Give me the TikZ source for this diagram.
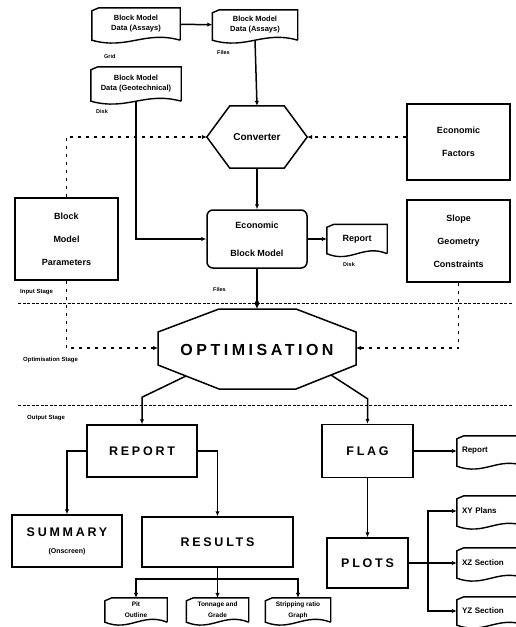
\documentclass[tikz,border=0pt]{standalone}
\usepackage{fontspec}
\setmainfont{Liberation Sans}
\newfontfamily\spacedcaps[LetterSpace=22]{Liberation Sans}
\usetikzlibrary{calc,arrows.meta}

% outline of a document symbol round a named node
\newcommand{\docframe}[1]{%
  \draw[line width=1.4pt]
    (#1.south east) -- (#1.north east) -- ([xshift=7pt]#1.north west)
    -- ([yshift=-3pt]#1.north west) -- (#1.south west)
    .. controls ($(#1.south west)!0.4!(#1.south east)+(0,10)$)
    and ($(#1.south west)!0.6!(#1.south east)+(0,-10)$) .. (#1.south east);}

\begin{document}
\begin{tikzpicture}[x=1pt,y=-1pt,>={Latex[length=5pt,width=4.5pt]},
  doc/.style={inner sep=0pt,align=center,font=\bfseries\fontsize{7.5}{10}\selectfont},
  box/.style={draw,line width=1.5pt,inner sep=0pt,align=center,font=\bfseries\fontsize{9}{23}\selectfont},
  caps/.style={box,font=\spacedcaps\bfseries\fontsize{12.5}{15}\selectfont},
  tag/.style={anchor=west,inner sep=0pt,font=\bfseries\fontsize{5.5}{6}\selectfont},
  arr/.style={->,line width=1.5pt},
  dots/.style={->,line width=1.2pt,dash pattern=on 3pt off 5pt},
  stage/.style={line width=1pt,dash pattern=on 3pt off 1.5pt}]
  \useasboundingbox (0,0) rectangle (516,627);

  % input stage
  \node[doc,minimum width=88pt,minimum height=32pt] (blkA) at (136,24) {Block Model\\Data (Assays)};
  \node[doc,minimum width=85pt,minimum height=30pt] (blkB) at (255,25) {Block Model\\Data (Assays)};
  \node[doc,minimum width=90pt,minimum height=34pt] (blkC) at (136,84) {Block Model\\Data (Geotechnical)};
  \docframe{blkA}
  \docframe{blkB}
  \docframe{blkC}
  \node[tag] (tagA) at (104,57) {Grid};
  \node[tag] (tagB) at (217,53) {Files};
  \node[tag] (tagC) at (96,112) {Disk};

  \node[inner sep=0pt,minimum width=54pt,minimum height=62pt,font=\bfseries\fontsize{10}{12}\selectfont] (conv) at (257,137) {Converter};
  \coordinate (convW) at ($(conv.west)+(-23,0)$);
  \coordinate (convE) at ($(conv.east)+(23,0)$);
  \draw[line width=1.5pt] (conv.north west) -- (conv.north east) -- (convE)
    -- (conv.south east) -- (conv.south west) -- (convW) -- cycle;

  \node[box,minimum width=103pt,minimum height=76pt] (ecofac) at (458.5,142) {Economic\\Factors};
  \node[box,minimum width=103pt,minimum height=82pt] (slope) at (458.5,241) {Slope\\Geometry\\Constraints};
  \node[box,minimum width=103pt,minimum height=82pt] (params) at (66.5,239) {Block\\Model\\Parameters};
  \node[box,rounded corners=6pt,minimum width=100pt,minimum height=58pt,font=\bfseries\fontsize{9}{28}\selectfont] (econ) at (257,239) {Economic\\Block Model};
  \node[doc,minimum width=60pt,minimum height=29pt,font=\bfseries\fontsize{9}{10}\selectfont] (rep1) at (357,239) {Report};
  \docframe{rep1}
  \node[tag] (tagE) at (213,290) {Files};
  \node[tag] (tagR) at (343,265) {Disk};

  \draw[arr] (blkA) -- (blkB);
  \draw[arr] (blkB.south) -- (conv.north);
  \draw[arr] (conv.south) -- (econ.north);
  \draw[arr] (blkC.south) |- (econ.west);
  \draw[dots] (params.north) |- (convW);
  \draw[dots] (ecofac.west |- convE) -- (convE);
  \draw[arr] (econ.east) -- (rep1.west);

  % stage borders
  \coordinate (instage) at (18,303);
  \coordinate (outstage) at (18,405);
  \draw[stage] (instage) -- (512,303);
  \draw[stage] (outstage) -- (512,405);
  \node[tag,font=\bfseries\fontsize{6}{7}\selectfont] (inlab) at (20,292) {Input Stage};
  \node[tag,font=\bfseries\fontsize{6}{7}\selectfont] (optlab) at (23,360) {Optimisation Stage};
  \node[tag,font=\bfseries\fontsize{6}{7}\selectfont] (outlab) at (27,418) {Output Stage};

  % optimisation stage
  \node[inner sep=0pt,font=\spacedcaps\bfseries\fontsize{16}{18}\selectfont] (opt) at (257,350) {OPTIMISATION};
  \draw[line width=1.5pt] ($(opt)+(-38,-41)$) -- ($(opt)+(39,-41)$) -- ($(opt)+(99,-18)$)
    -- ($(opt)+(99,15)$) -- ($(opt)+(39,39)$) -- ($(opt)+(-38,39)$)
    -- ($(opt)+(-99,15)$) -- ($(opt)+(-99,-18)$) -- cycle;
  \coordinate (optN) at ($(opt)+(0,-41)$);
  \coordinate (optW) at ($(opt)+(-99,-2)$);
  \coordinate (optE) at ($(opt)+(99,-2)$);
  \coordinate (optSW) at ($(opt)+(-71,26)$);
  \coordinate (optSE) at ($(opt)+(74,25)$);
  \draw[arr] (econ.south) -- (optN);
  \fill (econ.south |- instage) circle (2.2pt);
  \draw[dots] (params.south) |- (optW);
  \draw[dots] (slope.south) |- (optE);

  % output stage
  \node[caps,minimum width=110pt,minimum height=52pt] (report) at (142,451) {REPORT};
  \node[caps,minimum width=91pt,minimum height=53pt] (flag) at (367.5,451) {FLAG};
  \node[caps,minimum width=110pt,minimum height=52pt,font=\spacedcaps\bfseries\fontsize{12.5}{17}\selectfont] (summary) at (67,541)
    {SUMMARY\\{\normalfont\bfseries\fontsize{7}{8}\selectfont (Onscreen)}};
  \node[caps,minimum width=151pt,minimum height=50pt] (results) at (217.5,542) {RESULTS};
  \node[caps,minimum width=81pt,minimum height=50pt] (plots) at (367.5,563) {PLOTS};

  \node[doc,minimum width=62pt,minimum height=24pt,font=\bfseries\fontsize{6.5}{11}\selectfont] (out1) at (136,610) {Pit\\Outline};
  \node[doc,minimum width=62pt,minimum height=24pt,font=\bfseries\fontsize{6.5}{11}\selectfont] (out2) at (217.5,610) {Tonnage and\\Grade};
  \node[doc,minimum width=65pt,minimum height=24pt,font=\bfseries\fontsize{6.5}{11}\selectfont] (out3) at (298,610) {Stripping ratio\\Graph};
  \docframe{out1}
  \docframe{out2}
  \docframe{out3}

  \node[doc,minimum width=68pt,minimum height=30pt,text width=58pt,align=left,font=\bfseries\fontsize{8}{10}\selectfont] (rep2) at (491,451) {Report};
  \node[doc,minimum width=68pt,minimum height=30pt,text width=58pt,align=left,font=\bfseries\fontsize{8}{10}\selectfont] (xy) at (491,511) {XY Plans};
  \node[doc,minimum width=68pt,minimum height=30pt,text width=58pt,align=left,font=\bfseries\fontsize{8}{10}\selectfont] (xz) at (491,563) {XZ Section};
  \node[doc,minimum width=68pt,minimum height=28pt,text width=58pt,align=left,font=\bfseries\fontsize{8}{10}\selectfont] (yz) at (491,611) {YZ Section};
  \docframe{rep2}
  \docframe{xy}
  \docframe{xz}
  \docframe{yz}

  \draw[arr] (optSW) -- ($(report.north)+(0,-27)$) -- (report.north);
  \draw[arr] (optSE) -- ($(flag.north)+(0,-25)$) -- (flag.north);
  \draw[arr] (report.west) -| (summary.north);
  \draw[arr] (report.east) -| (results.north);
  \coordinate (rsplit) at ($(results.south)+(0,11)$);
  \draw[line width=1.5pt] (results.south) -- (rsplit);
  \draw[arr] (rsplit) -| (out1.north);
  \draw[arr] (rsplit) -- (out2.north);
  \draw[arr] (rsplit) -| (out3.north);
  \draw[arr] (flag.east) -- (rep2.west);
  \draw[arr] (flag.south) -- (plots.north);
  \coordinate (ptrunk) at ($(plots.east)+(19,0)$);
  \draw[arr] (plots.east) -- (xz.west);
  \draw[arr] (ptrunk) |- (xy.west);
  \draw[arr] (ptrunk) |- (yz.west);
\end{tikzpicture}
\end{document}
